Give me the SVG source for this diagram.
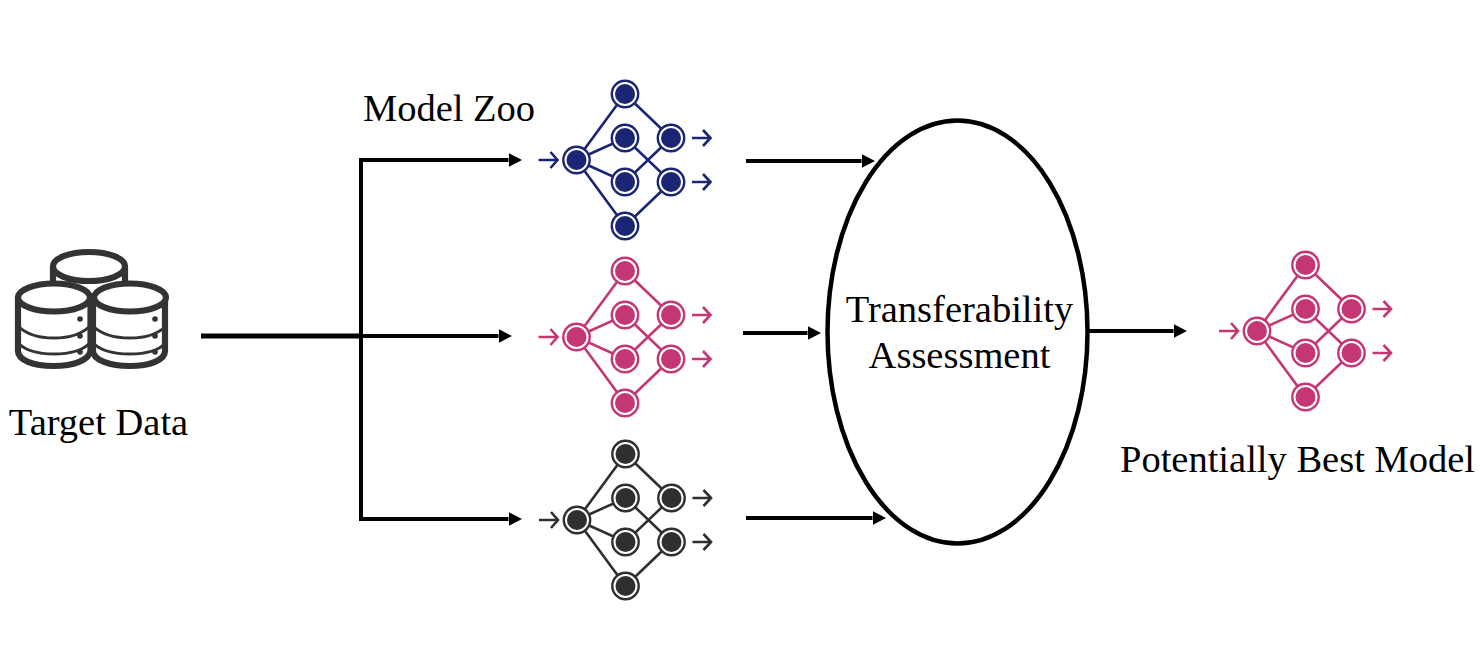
<svg xmlns="http://www.w3.org/2000/svg" width="1482" height="656" viewBox="0 0 1482 656">
<style>
.lbl{font-family:"Liberation Serif","Times New Roman",serif;font-size:38.5px;fill:#000}
.conn{fill:none;stroke:#000;stroke-width:4}
.db{fill:none;stroke:#333;stroke-width:6.2}
.dbf{fill:#fff;stroke:#333;stroke-width:6.2}
.thin{fill:none;stroke:#333;stroke-width:3}
.pip{fill:#333}
.w{stroke:currentColor;stroke-width:2.6;fill:none}
.ring{fill:#fff;stroke:currentColor;stroke-width:2.400}
.dot{fill:currentColor;stroke:none}
</style>
<defs>
<marker id="ah" markerUnits="userSpaceOnUse" markerWidth="14" markerHeight="15" refX="0" refY="7.500" orient="auto"><path d="M0 0.500L13.500 7.500L0 14.500Z" fill="#000"/></marker>
<g id="net">
<path class="w" d="M0 0L48.500-66L94.500-22M0 0L48.500-22L94.500 22M0 0L48.500 22L94.500-22M0 0L48.500 66L94.500 22"/>
<path class="w" d="M-38 0H-19.500M-26-8L-19 0L-26 8M115.500-22H134M126.500-30L134-22L126.500-14M115.500 22H134M126.500 14L134 22L126.500 30"/>
<circle class="ring" r="13.200"/><circle class="dot" r="10"/>
<circle class="ring" cx="48.500" cy="-66" r="13.200"/><circle class="dot" cx="48.500" cy="-66" r="10"/>
<circle class="ring" cx="48.500" cy="-22" r="13.200"/><circle class="dot" cx="48.500" cy="-22" r="10"/>
<circle class="ring" cx="48.500" cy="22" r="13.200"/><circle class="dot" cx="48.500" cy="22" r="10"/>
<circle class="ring" cx="48.500" cy="66" r="13.200"/><circle class="dot" cx="48.500" cy="66" r="10"/>
<circle class="ring" cx="94.500" cy="-22" r="13.200"/><circle class="dot" cx="94.500" cy="-22" r="10"/>
<circle class="ring" cx="94.500" cy="22" r="13.200"/><circle class="dot" cx="94.500" cy="22" r="10"/>
</g>
</defs>
<rect width="1482" height="656" fill="#fff"/>
<g id="connectors">
<path class="conn" style="stroke-width:5" d="M201 336H360"/>
<path class="conn" marker-end="url(#ah)" d="M361 338V160H508.500"/>
<path class="conn" marker-end="url(#ah)" d="M361 334V519H508.500"/>
<path class="conn" marker-end="url(#ah)" d="M360 336H498.500"/>
<path class="conn" marker-end="url(#ah)" d="M746 161H861.500"/>
<path class="conn" marker-end="url(#ah)" d="M743 333H807.500"/>
<path class="conn" marker-end="url(#ah)" d="M746 518H872.500"/>
<path class="conn" marker-end="url(#ah)" d="M1088 331H1173.500"/>
</g>
<g id="target-data">
<ellipse class="db" cx="89" cy="266.500" rx="36" ry="14.500"/>
<path class="db" d="M53 267V283M125 267V283"/>
<path class="db" d="M18 297.500V351C18 360 33 366 53.500 366C74 366 89 360 90.500 351V297.500"/>
<ellipse class="dbf" cx="54" cy="297.500" rx="36" ry="14"/>
<path class="thin" d="M18 326C26 334 38 338 54 338C70 338 82 334 90 326M18 343C26 351 38 354 54 354C70 354 82 351 90 343"/>
<circle class="pip" cx="80" cy="319" r="2.800"/><circle class="pip" cx="80" cy="336" r="2.800"/><circle class="pip" cx="80" cy="352" r="2.800"/>
<path class="db" d="M93 297.500V351C93 360 110 366 130 366C150 366 165 360 165 351V297.500"/>
<ellipse class="dbf" cx="130" cy="297.500" rx="36" ry="14"/>
<path class="thin" d="M93 326C101 334 114 338 130 338C146 338 158 334 166 326M93 343C101 351 114 354 130 354C146 354 158 351 166 343"/>
<circle class="pip" cx="155" cy="319" r="2.800"/><circle class="pip" cx="155" cy="336" r="2.800"/><circle class="pip" cx="155" cy="352" r="2.800"/>
<text class="lbl" x="98.500" y="434.500" text-anchor="middle">Target Data</text>
</g>
<g id="model-zoo-label"><text class="lbl" x="449" y="120.500" text-anchor="middle">Model Zoo</text></g>
<g id="model-blue" color="#1a2674"><use href="#net" x="576.500" y="160"/></g>
<g id="model-pink" color="#c43674"><use href="#net" x="576.500" y="337"/></g>
<g id="model-dark" color="#2f2f2f"><use href="#net" x="577" y="520"/></g>
<g id="transferability">
<ellipse cx="957.500" cy="332" rx="130" ry="211.500" fill="#fff" stroke="#000" stroke-width="4.500"/>
<text class="lbl" x="959.500" y="321.500" text-anchor="middle">Transferability</text>
<text class="lbl" x="959.500" y="367.500" text-anchor="middle">Assessment</text>
</g>
<g id="best-model" color="#c43674"><use href="#net" x="1257" y="331"/>
<text class="lbl" x="1297.500" y="471.500" text-anchor="middle">Potentially Best Model</text></g>
</svg>
